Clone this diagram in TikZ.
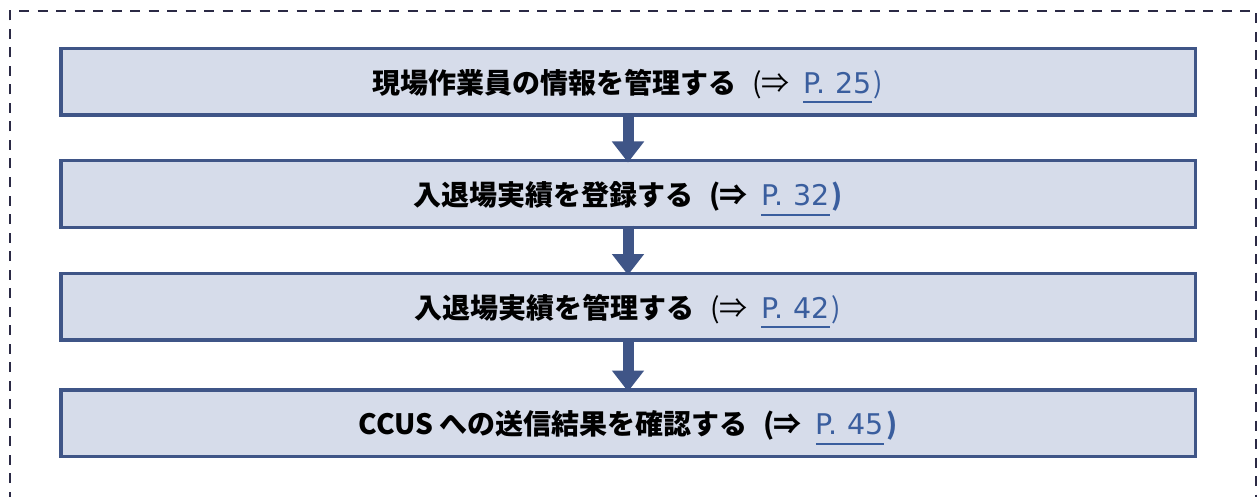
\documentclass[tikz,border=0pt]{standalone}
\usepackage{fontspec}
\usetikzlibrary{arrows.meta}
\newfontfamily\jp{Noto Sans CJK JP}
\newfontfamily\lat{DejaVu Sans}
\definecolor{boxfill}{HTML}{D6DCEA}
\definecolor{boxline}{HTML}{3F5587}
\definecolor{linkblue}{HTML}{3A5E9E}
\definecolor{dashcol}{HTML}{2B2A45}
\newcommand\plink[1]{\setbox0\hbox{\lat\mdseries\fontsize{28.5}{30}\selectfont\color{linkblue}#1}\rlap{\color{linkblue}\rule[-10pt]{\wd0}{2pt}}\box0}
% reference part: #1 = weight switch
\newcommand\pref[2]{\hspace{16pt}{\jp#1(}\hspace{-1pt}{\jp#1⇒}\hspace{14pt}\plink{P.\hspace{1pt} #2}\hspace{2pt}{\jp#1)}}
\tikzset{
  stepbox/.style={draw=boxline, fill=boxfill, line width=3.5pt, minimum width=1134.5pt, minimum height=66.5pt, inner sep=0pt, outer sep=0pt, text height=30pt, text depth=7pt, font=\jp\fontsize{28}{32}\selectfont, text=black},
  flowarrow/.style={draw=boxline, line width=11pt, -{Triangle[width=31pt,length=21pt]}, shorten <=-1.75pt, shorten >=-1.75pt},
  frame/.style={draw=dashcol, line width=2.3pt, dash pattern=on 10pt off 8.5pt}
}
\begin{document}
\begin{tikzpicture}[x=1pt,y=-1pt]
\useasboundingbox (0,0) rectangle (1257,497);
\clip (0,0) rectangle (1257,497);
\draw[frame] (10,520) -- (10,11) -- (1256,11) -- (1256,520);
\node[stepbox] (b1) at (628,82) {\textbf{現場作業員の情報を管理する}\pref{\mdseries}{25}};
\node[stepbox] (b2) at (628,194) {\textbf{入退場実績を登録する}\pref{\bfseries}{32}};
\node[stepbox] (b3) at (628,306.5) {\textbf{入退場実績を管理する}\pref{\mdseries}{42}};
\node[stepbox] (b4) at (628,423) {\textbf{CCUS への送信結果を確認する}\pref{\bfseries}{45}};
\draw[flowarrow] (b1.south) -- (b2.north);
\draw[flowarrow] (b2.south) -- (b3.north);
\draw[flowarrow] (b3.south) -- (b4.north);
\end{tikzpicture}
\end{document}
